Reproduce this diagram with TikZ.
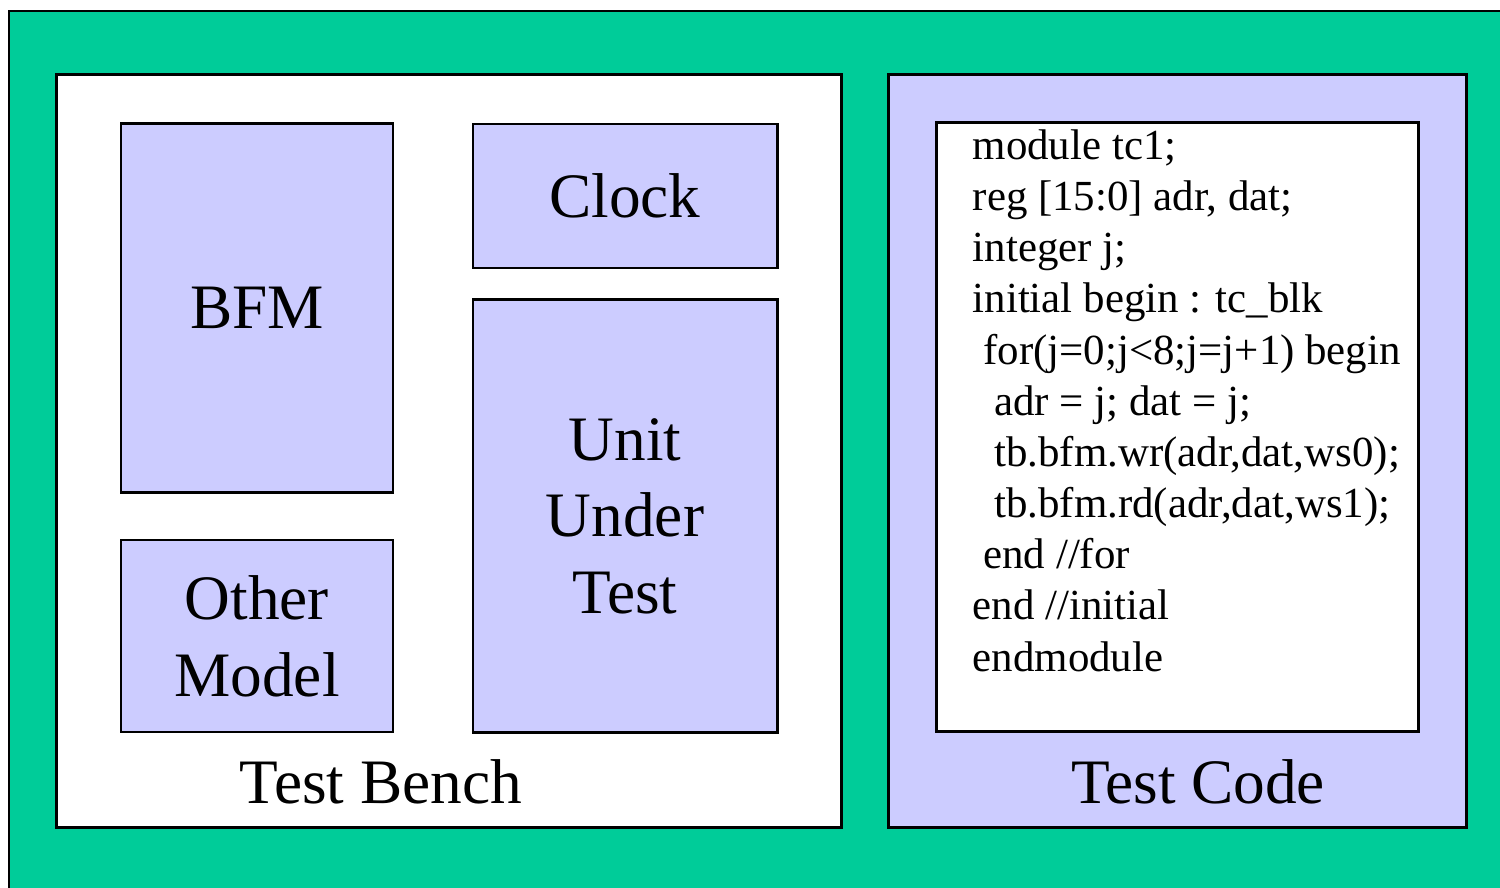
\documentclass[tikz,border=0pt]{standalone}
\usepackage{fontspec}
\setmainfont{Liberation Serif}
\usetikzlibrary{positioning}
\definecolor{benchgreen}{RGB}{0,204,153}
\definecolor{lavender}{RGB}{204,204,255}
\tikzset{
	frame/.style={draw=black, line width=0.8pt},
	blk/.style={frame, fill=lavender, inner sep=0pt, align=center,
			font=\fontsize{18}{21.8}\selectfont},
	label/.style={inner sep=0pt, font=\fontsize{18}{21.8}\selectfont}
}

\begin{document}
\begin{tikzpicture}[x=0.01cm, y=-0.01cm]
			\useasboundingbox (0,0) rectangle (1500,887);
			\draw[frame, fill=benchgreen] (9,11) rectangle (1520,910);
			% the bench and what sits in it
			\node[frame, fill=white, minimum width=7.84cm, minimum height=7.52cm] (bench) at (449,451) {};
			\node[blk, minimum width=2.72cm, minimum height=3.68cm] (bfm) at (257,308) {BFM};
			\node[blk, minimum width=2.72cm, minimum height=1.92cm] (other) at (257,636) {Other\\Model};
			\node[blk, minimum width=3.04cm, minimum height=1.44cm] (clock) at (625,196) {Clock};
			\node[blk, minimum width=3.04cm, minimum height=4.32cm] (uut) at (625,516) {Unit\\Under\\Test};
			\node[label] (benchname) at (381,782) {Test Bench};
			% the test case
			\node[frame, fill=lavender, minimum width=5.77cm, minimum height=7.52cm] (tcode) at (1177.5,451) {};
			\node[frame, fill=white, minimum width=4.81cm, minimum height=6.08cm] (listing) at (1177.5,427) {};
			\node[inner sep=0pt, anchor=north west, align=left,
				font=\rmfamily\fontsize{12.2}{14.55}\selectfont] (src) at (972,129) {%
				module tc1;\\
				reg [15:0] adr, dat;\\
				integer j;\\
				initial begin : tc\_blk\\
				\hspace*{0.25em}for(j=0;j<8;j=j+1) begin\\
				\hspace*{0.5em}adr = j; dat = j;\\
				\hspace*{0.5em}tb.bfm.wr(adr,dat,ws0);\\
				\hspace*{0.5em}tb.bfm.rd(adr,dat,ws1);\\
				\hspace*{0.25em}end //for\\
				end //initial\\
				endmodule};
			\node[label] (codename) at (1198,782) {Test Code};
		\end{tikzpicture}
\end{document}
